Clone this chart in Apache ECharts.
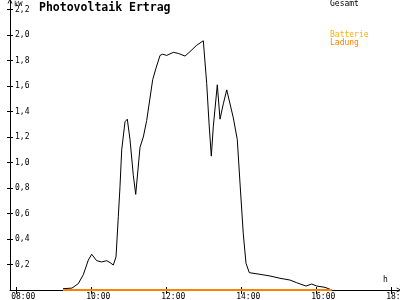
<!DOCTYPE html>
<html>
<head>
<meta charset="utf-8">
<script src="https://cdn.jsdelivr.net/npm/echarts@6/dist/echarts.min.js"></script>
<style>html,body{margin:0;padding:0;background:#fff}#c{width:400px;height:300px}</style>
</head>
<body>
<div id="c"></div>
<script>
// time in hours, power in kW
var hours = [9.253,9.493,9.661,9.795,9.928,10.019,10.152,10.285,10.419,10.507,10.595,10.667,10.728,10.773,10.819,10.907,10.968,11.04,11.128,11.192,11.307,11.395,11.485,11.645,11.733,11.84,11.912,12.019,12.195,12.328,12.507,12.64,12.819,12.995,13.085,13.147,13.208,13.261,13.368,13.44,13.528,13.619,13.795,13.901,13.973,14.061,14.133,14.221,14.507,14.773,15.04,15.307,15.485,15.733,15.885,16.019,16.24,16.419];
var gesamt = [0.01,0.015,0.05,0.12,0.235,0.28,0.23,0.22,0.23,0.215,0.196,0.26,0.575,0.81,1.10,1.32,1.34,1.18,0.90,0.75,1.12,1.20,1.33,1.65,1.74,1.84,1.85,1.84,1.864,1.856,1.835,1.87,1.92,1.955,1.62,1.31,1.05,1.28,1.61,1.34,1.46,1.57,1.35,1.18,0.84,0.44,0.21,0.136,0.123,0.11,0.092,0.078,0.057,0.031,0.047,0.031,0.021,0];
var batterieLadung = [0,0,0,0,0,0,0,0,0,0,0,0,0,0,0,0,0,0,0,0,0,0,0,0,0,0,0,0,0,0,0,0,0,0,0,0,0,0,0,0,0,0,0,0,0,0,0,0,0,0,0,0,0,0,0,0,0,0];
var xTicks = [8,10,12,14,16,18];
var yTicks = [0.2,0.4,0.6,0.8,1.0,1.2,1.4,1.6,1.8,2.0,2.2];

var mono = 'DejaVu Sans Mono';
var arrowUp = 'path://M0,6L3,0L6,6L5,6L3,2L1,6Z';
function pairs(xs, ys){ return xs.map(function(x,i){return [x, ys[i]];}); }

var chart = echarts.init(document.getElementById('c'), null, {renderer:'canvas'});
chart.setOption({
  animation:false,
  backgroundColor:'#fff',
  grid:{left:10,right:1,top:1,bottom:10,containLabel:false,outerBoundsMode:'none'},
  xAxis:[{
    type:'value',min:7.84,max:18.213,position:'bottom',
    axisLine:{show:true,lineStyle:{color:'#000',width:1},symbol:['none',arrowUp],symbolSize:[6,5]},
    axisTick:{show:true,inside:true,length:3,customValues:xTicks,lineStyle:{color:'#000'}},
    axisLabel:{show:true,customValues:xTicks,fontFamily:mono,fontSize:8,color:'#000',margin:3,
      formatter:function(v){var h=Math.round(v);return '   '+(h<10?'0'+h:h)+':00';}},
    splitLine:{show:false}
  },{
    type:'value',min:7.84,max:18.213,position:'bottom',
    axisLine:{show:false},
    axisTick:{show:true,inside:false,length:4,customValues:xTicks,lineStyle:{color:'#000'}},
    axisLabel:{show:false},splitLine:{show:false}
  }],
  yAxis:[{
    type:'value',min:0,max:2.267,position:'left',
    axisLine:{show:true,lineStyle:{color:'#000',width:1},symbol:['none',arrowUp],symbolSize:[6,5]},
    axisTick:{show:true,inside:true,length:3,customValues:yTicks,lineStyle:{color:'#000'}},
    axisLabel:{show:true,inside:true,customValues:yTicks,fontFamily:mono,fontSize:8,color:'#000',margin:5,
      formatter:function(v){return v.toFixed(1).replace('.',',');}},
    splitLine:{show:false}
  },{
    type:'value',min:0,max:2.267,position:'left',
    axisLine:{show:false},
    axisTick:{show:true,inside:false,length:3,customValues:yTicks,lineStyle:{color:'#000'}},
    axisLabel:{show:false},splitLine:{show:false}
  }],
  series:[{
    name:'Gesamt',type:'line',xAxisIndex:0,yAxisIndex:0,data:pairs(hours,gesamt),
    showSymbol:false,symbol:'none',lineStyle:{color:'#000',width:1},z:3
  },{
    name:'Batterie Ladung',type:'line',xAxisIndex:0,yAxisIndex:0,data:pairs(hours,batterieLadung),
    showSymbol:false,symbol:'none',lineStyle:{color:'#ff8000',width:2},z:4
  }],
  graphic:[
    {type:'text',left:39,top:2,style:{text:'Photovoltaik Ertrag',font:'bold 11.5px "DejaVu Sans Mono"',fill:'#000'}},
    {type:'text',left:14,top:1,style:{text:'kW',font:'7px "DejaVu Sans Mono"',fill:'#000'}},
    {type:'text',left:330,top:0,style:{text:'Gesamt',font:'8px "DejaVu Sans Mono"',fill:'#000'}},
    {type:'text',left:330,top:31,style:{text:'Batterie',font:'8px "DejaVu Sans Mono"',fill:'#ffb000'}},
    {type:'text',left:330,top:39,style:{text:'Ladung',font:'8px "DejaVu Sans Mono"',fill:'#ff8000'}},
    {type:'text',left:383,top:276,style:{text:'h',font:'8px "DejaVu Sans Mono"',fill:'#000'}}
  ]
});
</script>
</body>
</html>
